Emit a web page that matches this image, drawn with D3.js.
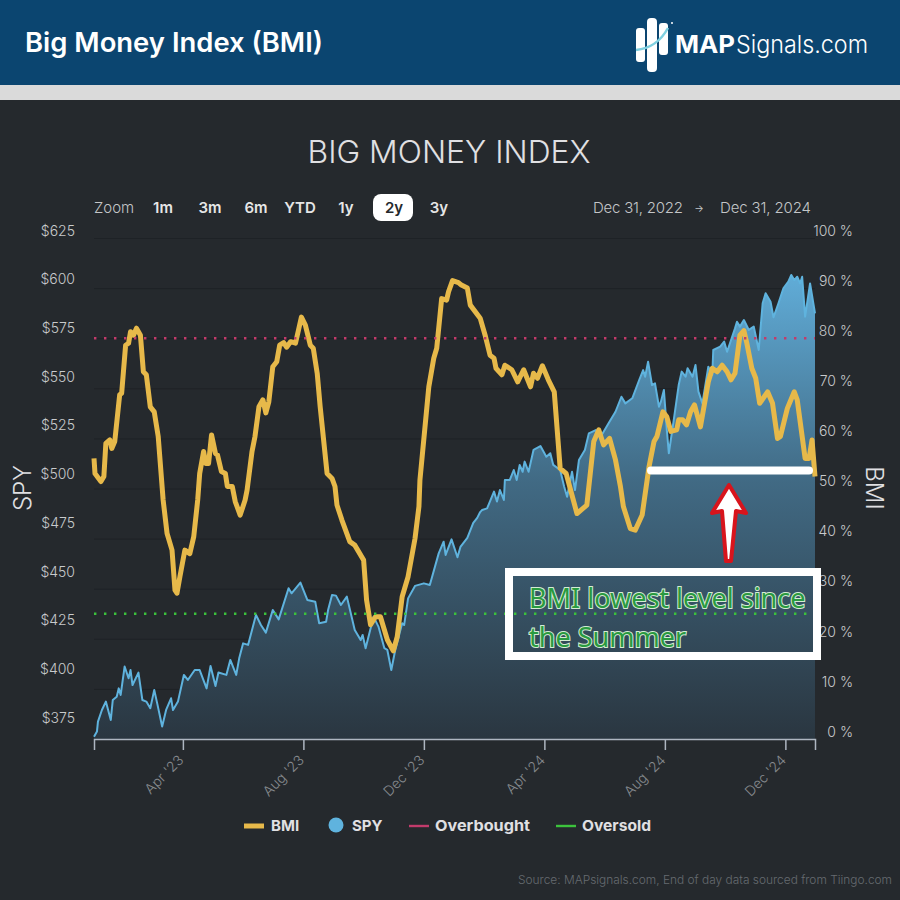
<!DOCTYPE html>
<html>
<head>
<meta charset="utf-8">
<script src="https://cdn.jsdelivr.net/npm/d3@7"></script>
<style>
  html, body { margin: 0; padding: 0; background: #25292d; }
  svg { display: block; font-family: Inter, sans-serif; }
</style>
</head>
<body>
<div id="chart"></div>
<script>
/* DATA. days = days since Jan 1 2023 */
const startDate = new Date(2023, 0, 1);
const endDate = new Date(2024, 11, 31);

const spyDays = [0,3,4,8,12,17,19,23,25,27,31,35,37,39,45,49,53,57,61,64,69,73,78,80,85,91,95,102,107,114,118,123,126,134,138,144,147,151,156,164,169,174,181,187,197,200,209,216,224,228,235,237,241,245,250,256,264,270,272,275,283,288,294,297,301,305,312,314,318,325,334,340,349,354,356,362,368,371,378,384,388,391,393,398,405,408,411,415,416,421,425,428,431,434,436,440,445,452,458,462,465,472,476,479,484,487,491,497,501,508,513,521,528,534,538,545,552,556,558,561,565,568,572,574,577,580,582,584,587,592,595,599,601,606,609,612,616,622,626,627,634,638,641,649,651,654,658,663,668,673,677,680,685,688,693,698,703,706,709,712,715,717,720,725,730];
const spyValues = [369,371.6,376.7,382.7,387,377.6,387.8,389.5,393.8,390.4,405,399,403.2,395.5,401.9,387.8,387,383.6,393,386.1,374.2,382.7,388.7,382.7,387,400.7,398.1,403.2,403.2,393.8,405.3,395,401.9,400.7,408.4,400.7,409.2,416.9,416.1,431.5,426.3,422.4,434,429.2,445.2,442.6,448.1,439.2,438.3,427.2,428,434,441.7,441.4,436.6,440.9,423.8,418.6,421.2,414.4,430.6,425.5,414.4,413.5,403.2,413.5,427.2,426.3,440,446.4,447.7,446.9,463.1,469.1,462.3,470.3,461.1,466.4,471,478.7,481.3,484.3,485.4,486.2,494.8,489.7,495.6,490.5,500.8,500.8,505.9,500.8,508.5,505,510.2,505,516.2,518.2,512.7,514.5,508.5,505.9,497.4,492.2,505,495.6,511,516.2,524.7,526.4,523,529.9,535.8,543.5,540.1,542.7,552.1,557.2,553.8,561.5,549.5,550.4,538.4,541,547,526.4,514.5,521.3,531.6,549.5,556.4,553.8,558.1,553.8,559.8,546.1,540.1,558.9,554.7,567.5,569.2,571.8,566.6,578.6,582,579.5,582.9,577.8,579.5,567.5,591.5,596.6,592.3,584.3,591.5,599.2,602.6,606,603.4,605.1,601.7,605.1,584.6,601.7,586.3];

const bmiDays = [0,1,7,10,12,16,18,21,26,28,32,35,37,40,43,47,50,53,57,61,65,70,74,79,82,84,87,92,97,101,105,107,111,113,116,119,123,125,129,133,135,140,143,148,153,155,160,163,167,171,174,177,181,185,188,192,195,199,204,207,210,214,219,222,226,229,236,241,244,246,251,259,264,273,276,280,285,290,297,303,307,312,318,325,329,330,339,344,347,352,357,359,363,369,372,378,381,391,396,401,405,407,413,416,423,429,435,442,445,449,454,460,466,472,478,489,499,506,511,516,522,528,533,536,543,548,555,562,567,570,576,580,584,590,592,596,600,604,608,614,622,626,631,636,641,645,649,654,658,661,666,670,674,682,687,692,695,702,709,712,720,724,727,730];
const bmiValues = [56,53,51.4,52.4,59,59.7,58,59.4,68.7,69,78.6,79,81.3,80.6,82,80.6,73.3,72.7,66.3,65.3,60.4,47.7,41,37.7,29.7,29.1,32.4,37.7,37,40.4,47.7,53,57.4,55,55,60.7,57,56.7,53.4,53,50.4,50.4,47.4,44.7,47.7,49.7,57.4,60.4,66.3,67.7,65.1,67.3,74.3,75.3,78.6,79.1,78.2,79.3,79,81.6,84.2,82.6,78.6,78,73,66.3,53,52,50.4,46.7,43.7,39.4,38.7,35.7,27.7,22.8,24.4,24.4,19.8,17.6,20.4,28.4,32.4,40,46.4,51.7,70.3,76,78,87.9,87.6,89.3,91.5,91.1,90.6,90,86.6,84,80.6,76.6,76,74,72.7,74.6,73.7,71.3,73.7,70.3,73,72,74.5,71.7,69.3,54,53,45,46.7,59.4,61.7,58.7,60,55.7,50.4,46.4,42,41.7,44.7,54.4,59.4,60.4,65.3,64.3,61.4,61.7,63.7,63.7,62.7,65.3,66.7,62.3,71.3,74,73.3,74.6,73.3,71.7,73,80.6,81.5,79,74,72,67,69.3,67,60,60.4,66,69.3,67.7,56,56,59.7,52.4];

const spyTicks = [375,400,425,450,475,500,525,550,575,600,625];
const bmiTicks = [0,10,20,30,40,50,60,70,80,90,100];
const monthTicks = [new Date(2023,3,1),new Date(2023,7,1),new Date(2023,11,1),new Date(2024,3,1),new Date(2024,7,1),new Date(2024,11,1)];
const overbought = 80;
const oversold = 25;
const zoomButtons = ["1m","3m","6m","YTD","1y","2y","3y"];
const zoomButtonX = [163,210,256,300,346,394,439];

const width = 900, height = 900;
const plot = {left: 94, right: 815, top: 238, bottom: 739};

const svg = d3.select("#chart").append("svg")
  .attr("width", width)
  .attr("height", height);

// page background
svg.append("rect").attr("width", width).attr("height", height).attr("fill", "#25292d");
svg.append("rect").attr("width", width).attr("height", 85).attr("fill", "#0b4570");
svg.append("rect").attr("y", 85).attr("width", width).attr("height", 15).attr("fill", "#dadada");

// header
svg.append("text").attr("x", 25).attr("y", 52)
  .attr("font-size", 27).attr("font-weight", 600).attr("fill", "#fff")
  .attr("font-family", "Inter").attr("textLength", 298).attr("lengthAdjust", "spacingAndGlyphs")
  .text("Big Money Index (BMI)");

// logo
const logo = svg.append("g");
logo.append("rect").attr("x", 636).attr("y", 28).attr("width", 9).attr("height", 34).attr("rx", 3).attr("fill", "#fff");
logo.append("rect").attr("x", 647).attr("y", 18).attr("width", 10).attr("height", 54).attr("rx", 4).attr("fill", "#fff");
logo.append("rect").attr("x", 659).attr("y", 23).attr("width", 9).attr("height", 32).attr("rx", 3).attr("fill", "#fff");
logo.append("path").attr("d", "M636,50 Q657,48 668,28").attr("fill", "none").attr("stroke", "#7fd0e0").attr("stroke-width", 2.5);
logo.append("circle").attr("cx", 672).attr("cy", 23).attr("r", 1).attr("fill", "#fff");
logo.append("text").attr("x", 675).attr("y", 53).attr("font-size", 24).attr("font-weight", 700).attr("fill", "#fff").attr("textLength", 60).attr("lengthAdjust", "spacingAndGlyphs").text("MAP");
logo.append("text").attr("x", 736).attr("y", 53).attr("font-size", 24).attr("font-weight", 300).attr("fill", "#fff").attr("textLength", 132).attr("lengthAdjust", "spacingAndGlyphs").text("Signals.com");

// chart title
svg.append("text").attr("x", 449).attr("y", 163).attr("text-anchor", "middle")
  .attr("font-size", 31).attr("font-weight", 300).attr("fill", "#e0e0e3").attr("textLength", 283).attr("lengthAdjust", "spacingAndGlyphs")
  .text("BIG MONEY INDEX");

// zoom buttons
svg.append("text").attr("x", 94).attr("y", 213).attr("font-size", 15).attr("font-weight", 300).attr("fill", "#c4c6c8").text("Zoom");
svg.append("rect").attr("x", 373).attr("y", 194).attr("width", 40).attr("height", 27).attr("rx", 8).attr("fill", "#fff");
svg.selectAll(".zoomBtn")
  .data(zoomButtons)
  .join("text")
  .attr("class", "zoomBtn")
  .attr("x", (d, i) => zoomButtonX[i])
  .attr("y", 213)
  .attr("text-anchor", "middle")
  .attr("font-size", 15)
  .attr("font-weight", 600)
  .attr("fill", d => d === "2y" ? "#25292d" : "#e6e6e6")
  .text(d => d);

// date range
svg.append("text").attr("x", 593).attr("y", 213).attr("font-size", 15).attr("font-weight", 300).attr("fill", "#c4c6c8").attr("textLength", 90).text("Dec 31, 2022");
svg.append("text").attr("x", 699).attr("y", 212).attr("text-anchor", "middle").attr("font-size", 10).attr("fill", "#c4c6c8").text("→");
svg.append("text").attr("x", 720).attr("y", 213).attr("font-size", 15).attr("font-weight", 300).attr("fill", "#c4c6c8").attr("textLength", 91).text("Dec 31, 2024");

/* SCALES */
const xScale = d3.scaleTime().domain([startDate, endDate]).range([plot.left, plot.right]);
const ySpy = d3.scaleLinear().domain([367.8, 625]).range([plot.bottom, plot.top]);
const yBmi = d3.scaleLinear().domain([0, 100]).range([plot.bottom, plot.top]);

const toDate = d => d3.timeDay.offset(startDate, d);
const spyData = spyDays.map((d, i) => ({date: toDate(d), value: spyValues[i]}));
const bmiData = bmiDays.map((d, i) => ({date: toDate(d), value: bmiValues[i]}));

/* GRADIENT */
const grad = svg.append("defs").append("linearGradient")
  .attr("id", "spyFill")
  .attr("gradientUnits", "userSpaceOnUse")
  .attr("x1", 0).attr("x2", 0)
  .attr("y1", 270).attr("y2", plot.bottom);
grad.append("stop").attr("offset", "0%").attr("stop-color", "#61aeda");
grad.append("stop").attr("offset", "45%").attr("stop-color", "#416a84");
grad.append("stop").attr("offset", "100%").attr("stop-color", "#2a3640");

/* AXES */
const gridGroup = svg.append("g")
  .attr("transform", `translate(${plot.right},0)`)
  .call(d3.axisRight(yBmi).tickValues(bmiTicks).tickSize(-(plot.right - plot.left)).tickFormat(d => d + " %"));
gridGroup.select(".domain").remove();
gridGroup.selectAll("line").attr("stroke", "#1e2226").attr("stroke-width", 1);
gridGroup.selectAll("text")
  .attr("x", 38).attr("dy", "-0.2em").attr("text-anchor", "end")
  .attr("font-size", 14).attr("font-family", "Inter").attr("font-weight", 300).attr("fill", "#c8cacc");

const spyGroup = svg.append("g")
  .attr("transform", `translate(${plot.left},0)`)
  .call(d3.axisLeft(ySpy).tickValues(spyTicks).tickSize(0).tickFormat(d => "$" + d));
spyGroup.select(".domain").remove();
spyGroup.selectAll("text")
  .attr("x", -19).attr("dy", "-0.2em").attr("text-anchor", "end")
  .attr("font-size", 14).attr("font-family", "Inter").attr("font-weight", 300).attr("fill", "#c8cacc");

/* SPY AREA + LINE */
const areaGen = d3.area().x(d => xScale(d.date)).y0(plot.bottom).y1(d => ySpy(d.value));
const lineSpy = d3.line().x(d => xScale(d.date)).y(d => ySpy(d.value));
const lineBmi = d3.line().x(d => xScale(d.date)).y(d => yBmi(d.value));

svg.append("path").datum(spyData).attr("d", areaGen).attr("fill", "url(#spyFill)");
svg.append("path").datum(spyData).attr("d", lineSpy)
  .attr("fill", "none").attr("stroke", "#5fb3de").attr("stroke-width", 2).attr("stroke-linejoin", "round");

/* BMI LINE */
svg.append("path").datum(bmiData).attr("d", lineBmi)
  .attr("fill", "none").attr("stroke", "#e7b94a").attr("stroke-width", 5).attr("stroke-linejoin", "round");

/* OVERBOUGHT / OVERSOLD */
[[overbought, "#c23b6b"], [oversold, "#3cc23c"]].forEach(([v, color]) => {
  svg.append("line")
    .attr("x1", plot.left).attr("x2", plot.right)
    .attr("y1", yBmi(v)).attr("y2", yBmi(v))
    .attr("stroke", color).attr("stroke-width", 2.4).attr("stroke-dasharray", "2.4 7.6");
});

/* X AXIS */
const xGroup = svg.append("g")
  .attr("transform", `translate(0,${plot.bottom})`)
  .call(d3.axisBottom(xScale).tickValues(monthTicks).tickSize(11).tickFormat(d3.timeFormat("%b '%y")));
xGroup.select(".domain").attr("stroke", "#aeb6c1").attr("stroke-width", 1.5);
xGroup.selectAll("line").attr("stroke", "#aeb6c1").attr("stroke-width", 1.5);
xGroup.selectAll("text")
  .attr("font-size", 14).attr("font-family", "Inter").attr("font-weight", 300).attr("fill", "#85898d")
  .attr("text-anchor", "end")
  .attr("dy", 0).attr("y", 0)
  .attr("transform", "translate(1,22) rotate(-45)");

/* AXIS TITLES */
svg.append("text").attr("transform", "translate(31,488) rotate(-90)").attr("text-anchor", "middle")
  .attr("font-size", 24).attr("font-weight", 300).attr("fill", "#e0e0e3").text("SPY");
svg.append("text").attr("transform", "translate(866,488) rotate(90)").attr("text-anchor", "middle")
  .attr("font-size", 24).attr("font-weight", 300).attr("fill", "#e0e0e3").text("BMI");

/* LEGEND */
const legend = svg.append("g").attr("font-size", 15).attr("font-weight", 700).attr("fill", "#e0e0e3");
legend.append("line").attr("x1", 244).attr("x2", 264).attr("y1", 826).attr("y2", 826).attr("stroke", "#e7b94a").attr("stroke-width", 5);
legend.append("text").attr("x", 271).attr("y", 831).text("BMI");
legend.append("circle").attr("cx", 336).attr("cy", 825).attr("r", 7.5).attr("fill", "#5fb3de");
legend.append("text").attr("x", 352).attr("y", 831).text("SPY");
legend.append("line").attr("x1", 409).attr("x2", 429).attr("y1", 826).attr("y2", 826).attr("stroke", "#c23b6b").attr("stroke-width", 2.4);
legend.append("text").attr("x", 435).attr("y", 831).attr("textLength", 95).attr("lengthAdjust", "spacingAndGlyphs").text("Overbought");
legend.append("line").attr("x1", 556).attr("x2", 576).attr("y1", 826).attr("y2", 826).attr("stroke", "#3cc23c").attr("stroke-width", 2.4);
legend.append("text").attr("x", 582).attr("y", 831).attr("textLength", 69).attr("lengthAdjust", "spacingAndGlyphs").text("Oversold");

/* SOURCE */
svg.append("text").attr("x", 892).attr("y", 884).attr("text-anchor", "end")
  .attr("font-size", 12).attr("font-weight", 300).attr("fill", "#666b70").attr("textLength", 374).attr("lengthAdjust", "spacingAndGlyphs")
  .text("Source: MAPsignals.com, End of day data sourced from Tiingo.com");

/* ANNOTATIONS */
svg.append("line").attr("x1", 651).attr("x2", 809).attr("y1", 470.5).attr("y2", 470.5)
  .attr("stroke", "#fff").attr("stroke-width", 8).attr("stroke-linecap", "round");
svg.append("path").attr("d", "M729,485 L746,513 L736,511 L731,561 L726,561 L722,511 L712,513 Z")
  .attr("fill", "#fff").attr("stroke", "#d8141c").attr("stroke-width", 4).attr("stroke-linejoin", "round");
svg.append("rect").attr("x", 509).attr("y", 572).attr("width", 308).attr("height", 84)
  .attr("fill", "none").attr("stroke", "#fff").attr("stroke-width", 8);
[["BMI lowest level since", 608], ["the Summer", 647]].forEach(([line, y]) => {
  svg.append("text").attr("x", 529).attr("y", y)
    .attr("font-family", "Noto Sans").attr("font-size", 27)
    .attr("fill", "#2a9a40").attr("stroke", "#d5ecd5").attr("stroke-width", 2).attr("paint-order", "stroke")
    .text(line);
});
</script>
</body>
</html>
